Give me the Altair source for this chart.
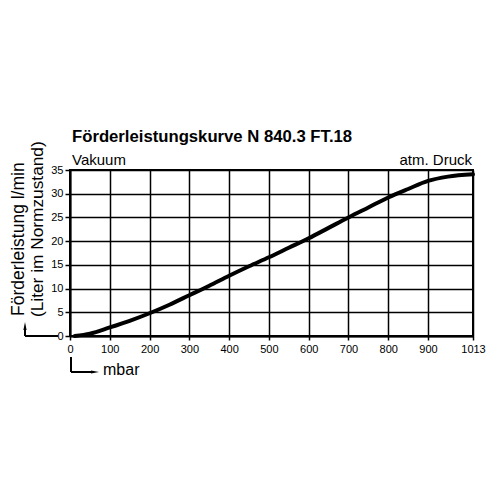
import altair as alt
import pandas as pd

# Curve values
mbar = [12, 50, 100, 150, 200, 250, 300, 350, 400, 450, 500, 550, 600, 650, 700, 750, 800, 850, 900, 950, 1013]
flow = [0.0, 0.5, 1.8, 3.2, 4.8, 6.6, 8.6, 10.6, 12.7, 14.7, 16.6, 18.6, 20.6, 22.8, 25.0, 27.1, 29.2, 31.0, 32.7, 33.6, 34.1]

x_ticks = [0, 100, 200, 300, 400, 500, 600, 700, 800, 900, 1013]
y_ticks = [0, 5, 10, 15, 20, 25, 30, 35]

title_text = "Förderleistungskurve N 840.3 FT.18"
left_note = "Vakuum"
right_note = "atm. Druck"
y_title_1 = "Förderleistung l/min"
y_title_2 = "(Liter im Normzustand)"
x_title = "mbar"

FONT = "Liberation Sans"
W, H = 403, 166

df = pd.DataFrame({"mbar": mbar, "flow": flow})
one = alt.Data(values=[{"a": 1}])

xs = alt.Scale(domain=[0, 1013], nice=False, zero=False)
ys = alt.Scale(domain=[0, 35], nice=False)

curve = alt.Chart(df).mark_line(
    color="black", strokeWidth=4, interpolate="monotone", strokeCap="round"
).encode(
    x=alt.X("mbar:Q", scale=xs,
            axis=alt.Axis(values=x_ticks, title=None, grid=True, tickSize=4, format="d",
                          labelPadding=3, labelFlush=False, labelOverlap=False)),
    y=alt.Y("flow:Q", scale=ys,
            axis=alt.Axis(values=y_ticks, title=None, grid=True, tickSize=5, format="d",
                          labelPadding=2)),
)

def txt(text, x, y, size, align="left", weight="normal", angle=0, baseline="alphabetic"):
    kw = dict(text=text, fontSize=size, align=align, fontWeight=weight,
              baseline=baseline, font=FONT, color="black")
    if angle:
        kw["angle"] = angle
    return alt.Chart(one).mark_text(**kw).encode(x=alt.value(x), y=alt.value(y))

title = txt(title_text, 2, -28, 16.7, weight="bold")
vak = txt(left_note, 2, -5, 15)
atm = txt(right_note, W - 1, -5, 15, align="right")
yt1 = txt(y_title_1, -51, 146, 17.5, angle=270, baseline="middle")
yt2 = txt(y_title_2, -32, 147, 17.3, angle=270, baseline="middle")
xt = txt(x_title, 33, 205, 16)

def rule(x, x2, y, y2):
    return alt.Chart(one).mark_rule(color="black", strokeWidth=2).encode(
        x=alt.value(x), x2=alt.value(x2), y=alt.value(y), y2=alt.value(y2))

def head(x, y, path):
    return alt.Chart(one).mark_point(
        shape=path, filled=True, color="black", opacity=1, size=64, strokeWidth=0
    ).encode(x=alt.value(x), y=alt.value(y))

# arrow for y axis
ya_h = rule(-45, -12, 166, 166)
ya_v = rule(-45, -45, 166, 158)
ya_head = head(-45, 156, "M -0.4 1 L 0 -1 L 0.4 1 Z")
# arrow for x axis
xa_v = rule(1, 1, 187, 202)
xa_h = rule(1, 24, 202, 202)
xa_head = head(25, 202, "M -1 -0.4 L 1 0 L -1 0.4 Z")

chart = alt.layer(
    curve, title, vak, atm, yt1, yt2, xt,
    ya_h, ya_v, ya_head, xa_v, xa_h, xa_head
).properties(
    width=W, height=H,
    autosize=alt.AutoSizeParams(type="none"),
    padding={"left": 62, "top": 162, "right": 19, "bottom": 156},
    background="white",
).configure_view(
    stroke="black", strokeWidth=2
).configure_axis(
    labelFont=FONT, labelFontSize=11, labelColor="black",
    tickColor="black", tickWidth=1.5,
    domainColor="black", domainWidth=2,
    gridColor="black", gridWidth=1.5, gridOpacity=1,
)

chart.save("out.html", embed_options={"renderer": "svg", "actions": False})
